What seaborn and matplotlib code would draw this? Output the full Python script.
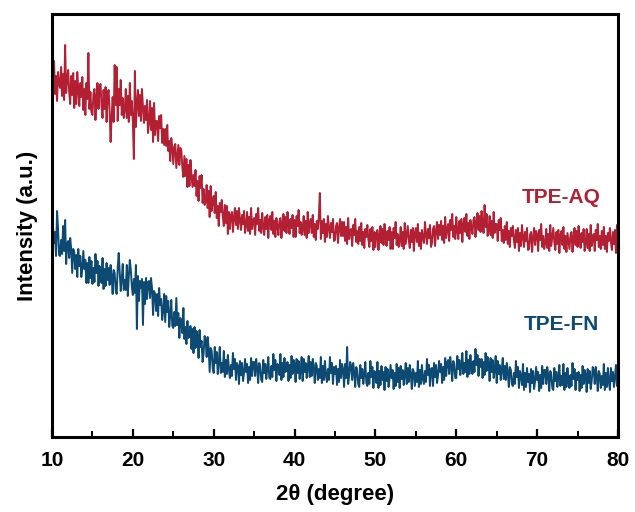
import numpy as np
import pandas as pd
import matplotlib
matplotlib.use("Agg")
import matplotlib.pyplot as plt
import seaborn as sns
from matplotlib.ticker import MultipleLocator

# 2-theta grid of the scans (degrees), 0.125 degree step
two_theta = np.round(np.arange(10.0, 80.0 + 1e-9, 0.125), 3)

# TPE-AQ intensity (a.u., offset upward for stacking), one row per degree
tpe_aq = [
    370, 349, 376, 343, 361, 336, 365, 353,   # 10
    349, 370, 341, 363, 337, 392, 344, 358,   # 11
    367, 345, 333, 361, 342, 364, 329, 356,   # 12
    333, 365, 347, 331, 354, 340, 360, 327,   # 13
    348, 322, 354, 338, 384, 328, 345, 325,   # 14
    322, 343, 348, 317, 340, 354, 328, 349,   # 15
    353, 331, 319, 347, 328, 350, 315, 342,   # 16
    347, 326, 295, 320, 340, 315, 372, 332,   # 17
    370, 316, 348, 332, 357, 322, 339, 319,   # 18
    327, 348, 319, 341, 315, 354, 322, 336,   # 19
    315, 278, 366, 310, 333, 347, 321, 342,   # 20
    316, 348, 330, 314, 331, 317, 337, 304,   # 21
    315, 336, 307, 329, 295, 334, 302, 316,   # 22
    316, 296, 321, 309, 322, 294, 308, 292,   # 23
    308, 291, 312, 286, 296, 276, 299, 290,   # 24
    273, 290, 293, 269, 281, 292, 272, 289,   # 25
    286, 269, 260, 281, 261, 278, 250, 272,   # 26
    251, 277, 262, 250, 262, 251, 267, 241,   # 27
    256, 236, 261, 249, 262, 234, 248, 232,   # 28
    235, 252, 229, 246, 220, 251, 226, 236,   # 29
    241, 224, 245, 219, 231, 211, 234, 225,   # 30
    237, 220, 211, 232, 214, 231, 203, 225,   # 31
    208, 222, 225, 205, 220, 229, 212, 226,   # 32
    208, 229, 217, 207, 222, 213, 226, 204,   # 33
    211, 225, 206, 220, 203, 229, 208, 217,   # 34
    219, 202, 223, 213, 229, 206, 217, 204,   # 35
    224, 210, 202, 220, 208, 222, 199, 217,   # 36
    221, 207, 225, 203, 216, 200, 219, 211,   # 37
    202, 216, 219, 199, 214, 223, 206, 220,   # 38
    204, 225, 213, 203, 218, 209, 222, 200,   # 39
    217, 200, 221, 211, 227, 204, 215, 202,   # 40
    207, 221, 202, 216, 199, 225, 204, 213,   # 41
    218, 204, 222, 200, 213, 197, 216, 208,   # 42
    220, 244, 198, 216, 204, 218, 195, 213,   # 43
    200, 221, 209, 199, 214, 205, 218, 196,   # 44
    197, 211, 214, 194, 209, 218, 201, 215,   # 45
    201, 215, 196, 210, 193, 219, 198, 207,   # 46
    208, 191, 212, 202, 218, 195, 206, 193,   # 47
    210, 196, 214, 192, 205, 189, 208, 200,   # 48
    212, 198, 190, 208, 196, 210, 187, 205,   # 49
    190, 204, 207, 187, 202, 211, 194, 208,   # 50
    192, 213, 201, 191, 206, 197, 210, 188,   # 51
    205, 188, 209, 199, 215, 192, 203, 190,   # 52
    196, 210, 191, 205, 188, 214, 193, 202,   # 53
    211, 197, 189, 207, 195, 209, 186, 204,   # 54
    209, 195, 213, 191, 204, 188, 207, 199,   # 55
    194, 215, 203, 193, 208, 199, 212, 190,   # 56
    194, 208, 211, 191, 206, 215, 198, 212,   # 57
    202, 216, 197, 211, 194, 220, 199, 208,   # 58
    213, 196, 217, 207, 223, 200, 211, 198,   # 59
    220, 206, 198, 216, 204, 218, 195, 213,   # 60
    219, 205, 223, 201, 214, 198, 217, 209,   # 61
    203, 217, 220, 200, 215, 224, 207, 221,   # 62
    205, 226, 214, 204, 232, 210, 223, 201,   # 63
    207, 221, 202, 216, 199, 225, 204, 213,   # 64
    213, 196, 217, 207, 219, 196, 207, 194,   # 65
    211, 197, 215, 193, 206, 190, 209, 201,   # 66
    211, 197, 189, 207, 195, 209, 186, 204,   # 67
    191, 212, 200, 190, 205, 196, 209, 187,   # 68
    188, 202, 205, 185, 200, 209, 192, 206,   # 69
    203, 186, 207, 197, 213, 190, 201, 188,   # 70
    194, 208, 189, 203, 186, 212, 191, 200,   # 71
    209, 195, 187, 205, 193, 207, 184, 202,   # 72
    206, 192, 210, 188, 201, 185, 204, 196,   # 73
    188, 202, 205, 185, 200, 209, 192, 206,   # 74
    190, 211, 199, 189, 204, 195, 208, 186,   # 75
    194, 208, 189, 203, 186, 212, 191, 200,   # 76
    203, 186, 207, 197, 213, 190, 201, 188,   # 77
    206, 192, 210, 188, 201, 185, 204, 196,   # 78
    209, 195, 187, 205, 193, 207, 184, 212,   # 79
    200,                                      # 80
]

# TPE-FN intensity (a.u.), one row per degree
tpe_fn = [
    184, 210, 194, 205, 181, 226, 208, 182,   # 10
    181, 197, 183, 211, 186, 217, 173, 193,   # 11
    196, 179, 199, 188, 164, 188, 185, 168,   # 12
    182, 160, 188, 171, 181, 160, 169, 186,   # 13
    168, 177, 154, 174, 154, 180, 159, 176,   # 14
    153, 169, 155, 183, 164, 176, 151, 171,   # 15
    164, 154, 179, 148, 168, 151, 174, 157,   # 16
    169, 152, 172, 161, 143, 167, 164, 147,   # 17
    143, 169, 184, 164, 146, 158, 173, 147,   # 18
    157, 147, 172, 141, 161, 177, 167, 150,   # 19
    142, 158, 144, 172, 108, 161, 136, 156,   # 20
    149, 158, 112, 155, 133, 159, 138, 155,   # 21
    156, 139, 159, 148, 122, 146, 143, 126,   # 22
    143, 121, 149, 132, 138, 117, 126, 143,   # 23
    115, 141, 125, 136, 110, 122, 137, 111,   # 24
    109, 125, 111, 139, 112, 124, 99, 119,    # 25
    114, 104, 129, 98, 110, 93, 116, 99,      # 26
    102, 111, 88, 108, 84, 110, 89, 106,      # 27
    101, 79, 107, 90, 96, 75, 84, 101,        # 28
    97, 80, 100, 89, 65, 89, 86, 69,          # 29
    64, 90, 74, 85, 63, 75, 90, 64,           # 30
    74, 65, 86, 60, 77, 63, 82, 68,           # 31
    59, 72, 61, 84, 68, 78, 57, 74,           # 32
    71, 53, 76, 62, 74, 56, 64, 78,           # 33
    65, 73, 54, 70, 57, 79, 61, 75,           # 34
    75, 61, 78, 69, 54, 74, 71, 57,           # 35
    55, 77, 64, 73, 58, 68, 80, 59,           # 36
    58, 71, 60, 83, 67, 77, 56, 73,           # 37
    71, 62, 83, 57, 74, 60, 79, 65,           # 38
    67, 75, 56, 72, 59, 81, 63, 77,           # 39
    73, 55, 78, 64, 76, 58, 66, 80,           # 40
    56, 78, 65, 74, 59, 69, 81, 60,           # 41
    75, 61, 78, 69, 54, 74, 71, 57,           # 42
    68, 59, 80, 54, 71, 57, 76, 62,           # 43
    55, 68, 57, 80, 64, 74, 53, 70,           # 44
    63, 71, 52, 68, 55, 77, 59, 73,           # 45
    68, 50, 73, 59, 90, 53, 61, 75,           # 46
    71, 57, 74, 65, 50, 70, 67, 53,           # 47
    50, 72, 59, 68, 53, 63, 75, 54,           # 48
    51, 64, 53, 76, 60, 70, 49, 66,           # 49
    63, 54, 75, 49, 66, 52, 71, 57,           # 50
    65, 47, 70, 56, 68, 50, 58, 72,           # 51
    59, 67, 48, 64, 51, 73, 55, 69,           # 52
    49, 71, 58, 67, 52, 62, 74, 53,           # 53
    69, 55, 72, 63, 48, 68, 65, 51,           # 54
    64, 55, 76, 50, 67, 53, 72, 58,           # 55
    53, 66, 55, 78, 62, 72, 51, 68,           # 56
    69, 51, 74, 60, 72, 54, 62, 76,           # 57
    65, 73, 54, 70, 57, 79, 61, 75,           # 58
    77, 63, 80, 71, 56, 76, 73, 59,           # 59
    59, 81, 68, 77, 62, 72, 84, 63,           # 60
    74, 65, 86, 60, 77, 63, 82, 68,           # 61
    63, 76, 65, 88, 72, 82, 61, 78,           # 62
    70, 78, 59, 75, 62, 84, 66, 80,           # 63
    74, 56, 79, 65, 77, 59, 67, 81,           # 64
    54, 76, 63, 72, 57, 67, 79, 58,           # 65
    71, 57, 74, 65, 50, 70, 67, 53,           # 66
    51, 64, 53, 76, 60, 70, 49, 66,           # 67
    61, 52, 73, 47, 64, 50, 69, 55,           # 68
    63, 45, 68, 54, 66, 48, 56, 70,           # 69
    57, 65, 46, 62, 49, 71, 53, 67,           # 70
    67, 53, 70, 61, 46, 66, 63, 49,           # 71
    47, 69, 56, 65, 50, 60, 72, 51,           # 72
    61, 52, 73, 47, 64, 50, 69, 55,           # 73
    49, 62, 51, 74, 58, 68, 47, 64,           # 74
    57, 65, 46, 62, 49, 71, 53, 67,           # 75
    63, 45, 68, 54, 66, 48, 56, 70,           # 76
    67, 53, 70, 61, 46, 66, 63, 49,           # 77
    61, 52, 73, 47, 64, 50, 69, 55,           # 78
    47, 69, 56, 65, 50, 60, 72, 51,           # 79
    60,                                       # 80
]

sample_names = ["TPE-AQ", "TPE-FN"]
sample_colors = {"TPE-AQ": "#b31f33", "TPE-FN": "#0c4a74"}

x_ticks = [10, 20, 30, 40, 50, 60, 70, 80]

df = pd.concat([
    pd.DataFrame({"2theta": two_theta, "intensity": tpe_aq, "sample": "TPE-AQ"}),
    pd.DataFrame({"2theta": two_theta, "intensity": tpe_fn, "sample": "TPE-FN"}),
])

sns.set_style("ticks")
plt.rcParams["font.family"] = ["Liberation Sans", "DejaVu Sans"]
plt.rcParams["font.weight"] = "bold"
plt.rcParams["text.color"] = "black"
plt.rcParams["axes.labelcolor"] = "black"
plt.rcParams["xtick.color"] = "black"

fig = plt.figure(figsize=(6.35, 5.12), dpi=100)
ax = fig.add_axes([0.0819, 0.1465, 0.8913, 0.8262])

sns.lineplot(data=df, x="2theta", y="intensity", hue="sample",
             palette=sample_colors, hue_order=sample_names,
             linewidth=1.4, legend=False, ax=ax, estimator=None, sort=False)

ax.set_xlim(10, 80)
ax.set_ylim(0, 423)
ax.set_xticks(x_ticks)
ax.set_xticklabels([str(t) for t in x_ticks])
ax.xaxis.set_minor_locator(MultipleLocator(5))
ax.set_yticks([])

for side in ["left", "right", "top", "bottom"]:
    ax.spines[side].set_visible(True)
    ax.spines[side].set_linewidth(2.2)
    ax.spines[side].set_color("black")

ax.tick_params(axis="x", which="major", direction="in", length=6, width=1.6,
               labelsize=15, pad=10, top=False, colors="black")
ax.tick_params(axis="x", which="minor", direction="in", length=4, width=1.4,
               top=False, colors="black")
for lab in ax.get_xticklabels():
    lab.set_fontweight("bold")

ax.set_xlabel("2θ (degree)", fontsize=16, fontweight="bold", labelpad=10,
              color="black")
ax.set_ylabel("Intensity (a.u.)", fontsize=16, fontweight="bold", labelpad=10,
              color="black")

ax.text(0.9, 0.567, "TPE-AQ", color=sample_colors["TPE-AQ"], fontsize=15,
        fontweight="bold", ha="center", va="center", transform=ax.transAxes)
ax.text(0.9, 0.265, "TPE-FN", color=sample_colors["TPE-FN"], fontsize=15,
        fontweight="bold", ha="center", va="center", transform=ax.transAxes)

assert len(tpe_aq) == len(two_theta) and len(tpe_fn) == len(two_theta)
fig.savefig("out.png", dpi=100)
